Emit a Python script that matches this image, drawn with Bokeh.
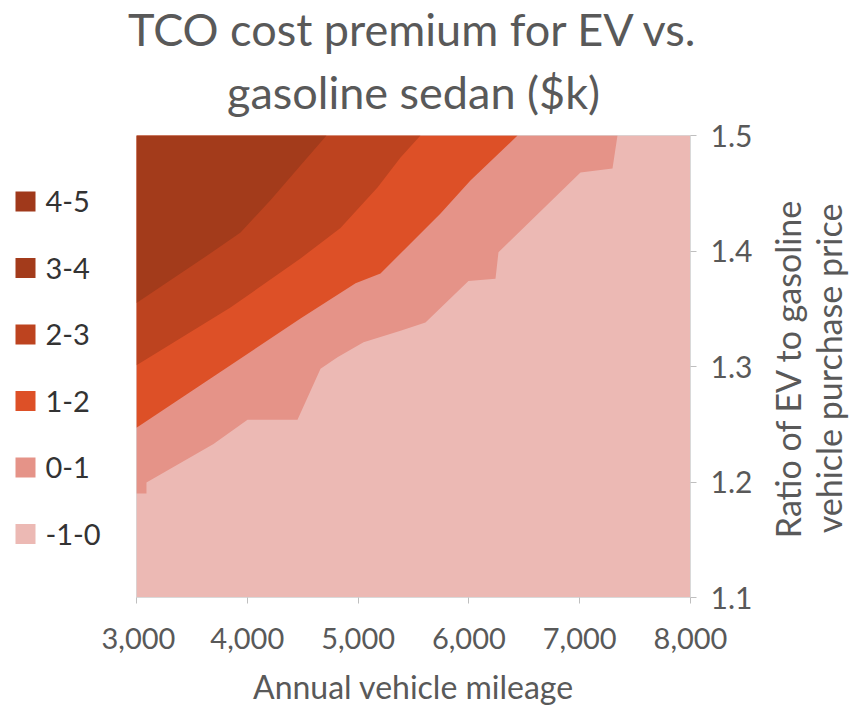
import numpy as np
from bokeh.plotting import figure
from bokeh.layouts import row
from bokeh.models import Range1d, NumeralTickFormatter, FixedTicker, Title
from bokeh.core.properties import value
from bokeh.embed import file_html
from bokeh.resources import INLINE

# ---------------- data ----------------
MILEAGE_RANGE = [3000, 8000]
RATIO_RANGE = [1.1, 1.5]
X_TICKS = [3000, 4000, 5000, 6000, 7000, 8000]
Y_TICKS = [1.1, 1.2, 1.3, 1.4, 1.5]

BAND_LABELS = ["4-5", "3-4", "2-3", "1-2", "0-1", "-1-0"]
BAND_COLORS = ["#A0391B", "#A33B1B", "#BD431F", "#DD5027", "#E59388", "#ECB9B4"]

# lower boundary of each band (mileage, ratio), from the left edge to the top edge
# (the 4-5 and 3-4 shades are indistinguishable in the source: one dark region)
B34_X = [3000, 3668, 3939, 4209, 4480, 4715]
B34_Y = [1.355, 1.398, 1.416, 1.444, 1.474, 1.5]
B23_X = [3000, 3848, 4480, 4841, 5175, 5383, 5563]
B23_Y = [1.301, 1.351, 1.3935, 1.420, 1.455, 1.481, 1.5]
B12_X = [3000, 3848, 4480, 4977, 5202, 5473, 5744, 6014, 6439]
B12_Y = [1.247, 1.301, 1.3415, 1.372, 1.3805, 1.4065, 1.4325, 1.461, 1.5]
B01_X = [3000, 3090, 3090, 3695, 4002, 4453, 4661, 4814, 5049, 5383, 5608,
         5996, 6240, 6267, 7007, 7296, 7341]
B01_Y = [1.190, 1.190, 1.1995, 1.233, 1.254, 1.254, 1.298, 1.308, 1.321, 1.331,
         1.338, 1.374, 1.376, 1.399, 1.468, 1.4715, 1.5]

TITLE_1 = "TCO cost premium for EV vs."
TITLE_2 = "gasoline sedan ($k)"
X_LABEL = "Annual vehicle mileage"
Y_LABELS = ["Ratio of EV to gasoline", "vehicle purchase price"]

FONT = "Lato"
GREY = "#595959"
H = 708

# ---------------- main contour plot ----------------
p = figure(width=664, height=H,
           x_range=Range1d(*MILEAGE_RANGE), y_range=Range1d(*RATIO_RANGE),
           output_backend="svg", toolbar_location=None,
           y_axis_location="right",
           min_border_left=35, min_border_right=75,
           min_border_top=135, min_border_bottom=111)
p.grid.visible = False
p.outline_line_color = "#D9D9D9"

# base band (-1-0) covers the whole domain
p.quad(left=[MILEAGE_RANGE[0]], right=[MILEAGE_RANGE[1]],
       bottom=[RATIO_RANGE[0]], top=[RATIO_RANGE[1]],
       fill_color=BAND_COLORS[5], line_color=None)

def band(bx, by, color):
    xs = list(bx) + [MILEAGE_RANGE[0]]
    ys = list(by) + [RATIO_RANGE[1]]
    return p.patch(x=xs, y=ys, fill_color=color, line_color=None)

band(B01_X, B01_Y, BAND_COLORS[4])
band(B12_X, B12_Y, BAND_COLORS[3])
band(B23_X, B23_Y, BAND_COLORS[2])
band(B34_X, B34_Y, BAND_COLORS[1])

xa = p.xaxis[0]
xa.ticker = FixedTicker(ticks=X_TICKS)
xa.formatter = NumeralTickFormatter(format="0,0")
xa.axis_label = X_LABEL
ya = p.yaxis[0]
ya.ticker = FixedTicker(ticks=Y_TICKS)
ya.formatter = NumeralTickFormatter(format="0.0")
for ax in (xa, ya):
    ax.axis_line_color = "#D9D9D9"
    ax.major_tick_line_color = "#BFBFBF"
    ax.major_tick_out = 6
    ax.major_tick_in = 0
    ax.minor_tick_line_color = None
    ax.major_label_text_font = FONT
    ax.major_label_text_font_size = "29px"
    ax.major_label_text_color = GREY
    ax.axis_label_text_font = FONT
    ax.axis_label_text_font_size = "32px"
    ax.axis_label_text_font_style = "normal"
    ax.axis_label_text_color = GREY
ya.major_label_text_font_size = "30px"
xa.major_label_standoff = 24
xa.axis_label_standoff = 15
ya.major_label_standoff = 14

# two-line title, each line centred over the plot area
p.title.text = TITLE_1
p.title.align = "center"
p.title.text_font = FONT
p.title.text_font_size = "45px"
p.title.text_font_style = "normal"
p.title.text_color = GREY
p.title.standoff = -18
p.add_layout(Title(text=TITLE_2, align="center", text_font=FONT, text_font_size="45px",
                   text_font_style="normal", text_color=GREY, standoff=33), "above")

# ---------------- legend panel (left) ----------------
# this figure's frame is aligned with the main frame (page y 135..597)
leg = figure(width=101, height=H, x_range=Range1d(0, 101), y_range=Range1d(597, 135),
             output_backend="svg", toolbar_location=None,
             x_axis_type=None, y_axis_type=None,
             min_border_left=0, min_border_right=0, min_border_top=0, min_border_bottom=0)
leg.outline_line_color = None
leg.grid.visible = False
leg_y = [201 + 66.5 * i for i in range(len(BAND_LABELS))]
leg.scatter(x=[25] * len(BAND_LABELS), y=leg_y, marker="square", size=20,
            fill_color=BAND_COLORS, line_color=None)
leg.text(x=[45] * len(BAND_LABELS), y=leg_y, text=BAND_LABELS,
         text_align="left", text_baseline="middle",
         text_font=value(FONT), text_font_size="29px", text_color="#333333")

# ---------------- right-hand axis title (two lines, bottom to top) ----------------
q = figure(width=85, height=H, x_range=Range1d(0, 85), y_range=Range1d(0, 462),
           output_backend="svg", toolbar_location=None,
           x_axis_type=None, y_axis_type=None,
           min_border_left=0, min_border_right=0, min_border_top=0, min_border_bottom=0)
q.outline_line_color = None
q.grid.visible = False
q.text(x=[22, 63], y=[229, 229], text=Y_LABELS, angle=np.pi / 2,
       text_align="center", text_baseline="middle",
       text_font=value(FONT), text_font_size="34px", text_color=GREY)

layout = row(leg, p, q, spacing=0)
open("out.html", "w").write(file_html(layout, INLINE))
